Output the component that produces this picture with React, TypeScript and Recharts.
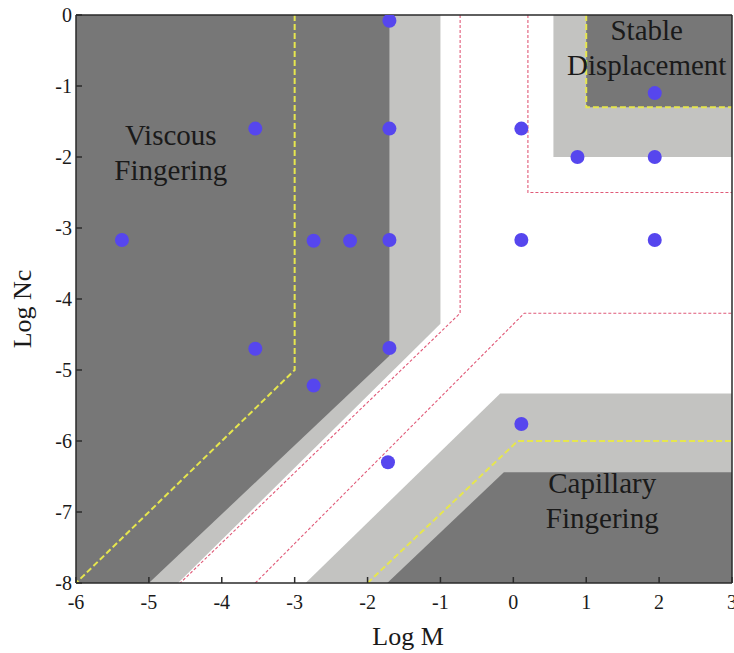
import { ComposedChart, Area, Line, Scatter, XAxis, YAxis } from "recharts";

const xTicks = [-6, -5, -4, -3, -2, -1, 0, 1, 2, 3];
const yTicks = [-8, -7, -6, -5, -4, -3, -2, -1, 0];

// experiments (Log M, Log Nc)
const expLogM = [-1.7, -1.7, -3.54, -5.37, -2.74, -2.24, -1.7, -3.54, -1.7, -2.74, -1.72, 0.11, 0.88, 1.94, 1.94, 0.11, 1.94, 0.11];
const expLogNc = [-0.08, -1.6, -1.6, -3.17, -3.18, -3.18, -3.17, -4.7, -4.69, -5.22, -6.3, -1.6, -2.0, -2.0, -1.1, -3.17, -3.17, -5.76];

// zones as [Log M, lower Log Nc, upper Log Nc]
const viscousOuter = [[-6, -8, 0], [-4.6, -8, 0], [-1.0, -4.35, 0]];
const viscousCore = [[-6, -8, 0], [-5, -8, 0], [-1.7, -4.8, 0]];
const stableOuter = [[0.55, -2, 0], [3, -2, 0]];
const stableCore = [[1.0, -1.3, 0], [3, -1.3, 0]];
const capillaryOuter = [[-2.85, -8, -8], [-0.18, -8, -5.33], [3, -8, -5.33]];
const capillaryCore = [[-1.73, -8, -8], [-0.13, -8, -6.44], [3, -8, -6.44]];

// boundaries (yellow)
const viscousBoundM = [-3, -3, -6];
const viscousBoundNc = [0, -5, -8];
const stableBoundM = [1.0, 1.0, 3];
const stableBoundNc = [0, -1.3, -1.3];
const capBoundM = [-2.0, 0.06, 3];
const capBoundNc = [-8, -6, -6];

// crossover lines (red)
const crossLeftM = [-0.73, -0.73, -4.57];
const crossLeftNc = [0, -4.2, -8];
const crossUpperM = [0.2, 0.2, 3];
const crossUpperNc = [0, -2.5, -2.5];
const crossLowerM = [-3.54, 0.15, 3];
const crossLowerNc = [-8, -4.2, -4.2];

// zone names
const zoneNames = [["Viscous", "Fingering"], ["Stable", "Displacement"], ["Capillary", "Fingering"]];
const zoneM = [-4.7, 1.83, 1.22];
const zoneNc = [-1.83, -0.35, -6.73];

const FONT = '"Liberation Serif", "Times New Roman", serif';
const DARK = "#777777";
const LIGHT = "#c3c3c1";
const YELLOW = "#e6e64e";
const RED = "#e05a78";
const AXIS = "#2a2a2a";

const toZone = (rows: number[][]) => rows.map(([x, lo, hi]) => ({ x, r: [lo, hi] }));
const toLine = (xs: number[], ys: number[]) => xs.map((x, i) => ({ x, y: ys[i] }));

const points = expLogM.map((x, i) => ({ x, y: expLogNc[i] }));
const names = zoneNames.map((lines, i) => ({ x: zoneM[i], y: zoneNc[i], lines }));

const zones = [
  { data: toZone(viscousOuter), fill: LIGHT },
  { data: toZone(stableOuter), fill: LIGHT },
  { data: toZone(capillaryOuter), fill: LIGHT },
  { data: toZone(viscousCore), fill: DARK },
  { data: toZone(stableCore), fill: DARK },
  { data: toZone(capillaryCore), fill: DARK },
];

const bounds = [
  { data: toLine(crossLeftM, crossLeftNc), color: RED, w: 1.1, dash: "3 2" },
  { data: toLine(crossUpperM, crossUpperNc), color: RED, w: 1.1, dash: "3 2" },
  { data: toLine(crossLowerM, crossLowerNc), color: RED, w: 1.1, dash: "3 2" },
  { data: toLine(viscousBoundM, viscousBoundNc), color: YELLOW, w: 2, dash: "6 3" },
  { data: toLine(stableBoundM, stableBoundNc), color: YELLOW, w: 2, dash: "6 3" },
  { data: toLine(capBoundM, capBoundNc), color: YELLOW, w: 2, dash: "6 3" },
];

const textStyle = (size: number) => ({ fontFamily: FONT, fontSize: size, fill: "#1a1a1a" });

const XTick = ({ x, y, payload }: any) => (
  <text x={x} y={y} dy="0.75em" textAnchor="middle" style={textStyle(20)}>
    {payload.value}
  </text>
);

const YTick = ({ x, y, payload }: any) => (
  <text x={x} y={y} dy="0.35em" textAnchor="end" style={textStyle(20)}>
    {payload.value}
  </text>
);

export default function App() {
  return (
    <div style={{ position: "absolute", left: 0, top: 0, background: "#fff" }}>
      <ComposedChart width={734} height={653} margin={{ top: 14, right: 1, bottom: 0, left: 0 }}>
        <XAxis
          dataKey="x"
          type="number"
          domain={[-6, 3]}
          ticks={xTicks}
          interval={0}
          allowDataOverflow
          height={70}
          tickSize={-6}
          tickMargin={17}
          tick={<XTick />}
          stroke={AXIS}
          strokeWidth={1.5}
          label={({ viewBox }: any) => (
            <text
              x={viewBox.x + viewBox.width / 2 + 4}
              y={viewBox.y + viewBox.height - 8}
              textAnchor="middle"
              style={textStyle(26)}
            >
              Log M
            </text>
          )}
        />
        <XAxis
          xAxisId="top"
          orientation="top"
          dataKey="x"
          type="number"
          domain={[-6, 3]}
          ticks={xTicks}
          interval={0}
          height={1}
          tickSize={-6}
          tickFormatter={() => ""}
          stroke={AXIS}
          strokeWidth={1.5}
        />
        <YAxis
          type="number"
          domain={[-8, 0]}
          ticks={yTicks}
          interval={0}
          allowDataOverflow
          width={76}
          tickSize={-6}
          tickMargin={10}
          tick={<YTick />}
          stroke={AXIS}
          strokeWidth={1.5}
          label={({ viewBox }: any) => {
            const cx = 22;
            const cy = viewBox.y + viewBox.height / 2 + 10;
            return (
              <text
                x={cx}
                y={cy}
                transform={`rotate(-90, ${cx}, ${cy})`}
                textAnchor="middle"
                dominantBaseline="central"
                style={textStyle(26)}
              >
                Log Nc
              </text>
            );
          }}
        />
        <YAxis
          yAxisId="right"
          orientation="right"
          type="number"
          domain={[-8, 0]}
          ticks={yTicks}
          interval={0}
          width={1}
          tickSize={-6}
          tickFormatter={() => ""}
          stroke={AXIS}
          strokeWidth={1.5}
        />
        {zones.map((z, i) => (
          <Area
            key={`zone-${i}`}
            data={z.data}
            dataKey="r"
            type="linear"
            fill={z.fill}
            fillOpacity={1}
            stroke="none"
            isAnimationActive={false}
            activeDot={false}
          />
        ))}
        {bounds.map((b, i) => (
          <Line
            key={`bound-${i}`}
            data={b.data}
            dataKey="y"
            type="linear"
            stroke={b.color}
            strokeWidth={b.w}
            strokeDasharray={b.dash}
            dot={false}
            activeDot={false}
            isAnimationActive={false}
          />
        ))}
        <Scatter
          data={points}
          dataKey="y"
          isAnimationActive={false}
          shape={(p: any) => <circle cx={p.cx} cy={p.cy} r={7} fill="#5646ee" />}
        />
        <Scatter
          data={names}
          dataKey="y"
          isAnimationActive={false}
          shape={(p: any) => (
            <text x={p.cx} y={p.cy} textAnchor="middle" style={textStyle(29)}>
              <tspan x={p.cx} dy={0}>{p.payload.lines[0]}</tspan>
              <tspan x={p.cx} dy={35}>{p.payload.lines[1]}</tspan>
            </text>
          )}
        />
      </ComposedChart>
    </div>
  );
}
